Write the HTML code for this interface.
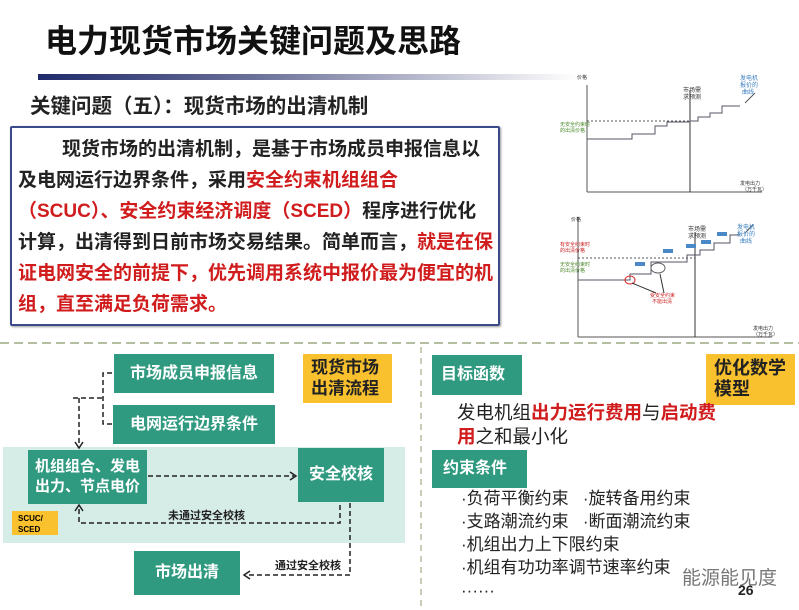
<!DOCTYPE html>
<html><head><meta charset="utf-8"><style>
body{margin:0;width:799px;height:610px;background:#fff;position:relative;overflow:hidden;font-family:"Liberation Sans","Noto Sans CJK SC",sans-serif}
.a{position:absolute}
.t{background:#2f9a80;color:#fff;font-weight:bold;font-size:16px;display:flex;align-items:center;justify-content:center;text-align:center;line-height:20px}
.y{background:#f9c12e;color:#222;font-weight:bold;font-size:18px;line-height:21px}
.r{color:#d01c1c}
</style></head><body>
<div class="a" style="left:45px;top:16px;font-size:32px;font-weight:bold;color:#111;white-space:nowrap">电力现货市场关键问题及思路</div>
<div class="a" style="left:38px;top:74px;width:540px;height:6px;background:linear-gradient(90deg,#1f2a6b,#6a7098 40%,#e8e8ee 90%,#fff)"></div>
<div class="a" style="left:30px;top:89px;font-size:20.5px;font-weight:bold;color:#222;white-space:nowrap">关键问题（五）：现货市场的出清机制</div>
<div class="a" style="left:10px;top:126px;width:486px;height:196px;border:2px solid #3a4a8a;border-radius:2px;box-shadow:1px 1px 2px #999"></div>
<div class="a" style="left:18px;top:134px;width:476px;font-size:19px;font-weight:bold;color:#222;line-height:31px;white-space:nowrap">
<div style="padding-left:44px">现货市场的出清机制，是基于市场成员申报信息以</div>
<div>及电网运行边界条件，采用<span class="r">安全约束机组组合</span></div>
<div><span class="r">（SCUC）、安全约束经济调度（SCED）</span>程序进行优化</div>
<div>计算，出清得到日前市场交易结果。简单而言，<span class="r">就是在保</span></div>
<div class="r">证电网安全的前提下，优先调用系统中报价最为便宜的机</div>
<div class="r">组，直至满足负荷需求。</div>
</div>
<svg class="a" style="left:0;top:0" width="799" height="610">
<g stroke="#555" stroke-width="1" fill="none">
<line x1="587" y1="85" x2="587" y2="192"/><line x1="587" y1="192" x2="762" y2="192"/>
<line x1="690" y1="90" x2="690" y2="192" stroke="#333"/>
<line x1="587" y1="121" x2="690" y2="121" stroke-dasharray="2,2"/>
<polyline points="587,139 632,139 632,134 655,134 655,126 667,126 667,122 690,122 690,121 698,121 698,117 710,117 710,113 722,113 722,106 740,106" stroke="#556"/>
<line x1="745" y1="103" x2="755" y2="93"/>
<line x1="578" y1="217" x2="578" y2="337"/><line x1="578" y1="337" x2="772" y2="337"/>
<line x1="695" y1="232" x2="695" y2="337" stroke="#333"/>
<line x1="578" y1="258" x2="695" y2="258" stroke-dasharray="2,2"/>
<polyline points="578,280 630,280 630,274 651,274 651,262 687,262 687,255 700,255 700,250 714,250 714,243 730,243 730,235 740,235" stroke="#556"/>
<line x1="745" y1="233" x2="753" y2="225"/>
<ellipse cx="630" cy="280" rx="5" ry="4" stroke="#d22"/>
<ellipse cx="658" cy="268" rx="7" ry="5" stroke="#666"/>
<line x1="656" y1="293" x2="632" y2="283" stroke="#333"/>
<line x1="664" y1="293" x2="660" y2="274" stroke="#333"/>
</g>
<g fill="#4a88c8"><rect x="635" y="262" width="10" height="4"/><rect x="663" y="249" width="10" height="4"/><rect x="686" y="244" width="10" height="4"/><rect x="701" y="240" width="10" height="4"/><rect x="717" y="232" width="10" height="4"/></g>
<g font-size="5" fill="#333" font-family="Liberation Sans,Noto Sans CJK SC,sans-serif">
<text x="577" y="79">价格</text><text x="740" y="80" fill="#3a7fc2" font-size="6">发电机</text><text x="740" y="87" fill="#3a7fc2" font-size="6">报价的</text><text x="742" y="94" fill="#3a7fc2" font-size="6">曲线</text>
<text x="683" y="92" font-size="6">市场需</text><text x="683" y="99" font-size="6">求预测</text>
<text x="560" y="126" fill="#4a8a2a">无安全约束时</text><text x="560" y="132" fill="#4a8a2a">的出清价格</text>
<text x="740" y="185">发电出力</text><text x="742" y="191">（万千瓦）</text>
<text x="571" y="221">价格</text><text x="688" y="231" font-size="6">市场需</text><text x="688" y="238" font-size="6">求预测</text>
<text x="737" y="229" fill="#3a7fc2" font-size="6">发电机</text><text x="737" y="236" fill="#3a7fc2" font-size="6">报价的</text><text x="740" y="243" fill="#3a7fc2" font-size="6">曲线</text>
<text x="560" y="246" fill="#c22">有安全约束时</text><text x="560" y="252" fill="#c22">的出清价格</text>
<text x="560" y="266" fill="#4a8a2a">无安全约束时</text><text x="560" y="272" fill="#4a8a2a">的出清价格</text>
<text x="650" y="297" fill="#c22">受安全约束</text><text x="652" y="303" fill="#c22">不能出清</text>
<text x="753" y="330">发电出力</text><text x="753" y="336">（万千瓦）</text>
</g>
<line x1="0" y1="343" x2="799" y2="343" stroke="#b4bea0" stroke-width="2" stroke-dasharray="9,5"/>
<line x1="421" y1="347" x2="421" y2="610" stroke="#b4bea0" stroke-width="1.5" stroke-dasharray="6,5"/>
<rect x="3" y="447" width="402" height="96" fill="#d6ece7"/>
<g stroke="#222" stroke-width="1.5" fill="none" stroke-dasharray="5,3">
<polyline points="112,373 103,373 103,424 112,424"/>
<line x1="73" y1="398" x2="103" y2="398"/>
<line x1="79" y1="398" x2="79" y2="446"/>
<line x1="148" y1="476" x2="294" y2="476"/>
<polyline points="340,505 340,523 79,523 79,508"/>
<polyline points="350,503 350,575 246,575"/>
</g>
<g stroke="#222" stroke-width="1.5" fill="none">
<polyline points="75,442 79,448 83,442"/><polyline points="290,472 296,476 290,480"/>
<polyline points="75,511 79,505 83,511"/><polyline points="250,571 244,575 250,579"/>
</g>
<text x="168" y="519" font-size="11" font-weight="bold" fill="#222" font-family="Liberation Sans,Noto Sans CJK SC,sans-serif">未通过安全校核</text>
<text x="275" y="569" font-size="11" font-weight="bold" fill="#222" font-family="Liberation Sans,Noto Sans CJK SC,sans-serif">通过安全校核</text>
</svg>
<div class="a t" style="left:114px;top:354px;width:160px;height:39px">市场成员申报信息</div>
<div class="a t" style="left:113px;top:405px;width:162px;height:39px">电网运行边界条件</div>
<div class="a t" style="left:28px;top:450px;width:119px;height:54px;font-size:15px">机组组合、发电<br>出力、节点电价</div>
<div class="a t" style="left:298px;top:448px;width:86px;height:54px">安全校核</div>
<div class="a t" style="left:134px;top:551px;width:106px;height:44px">市场出清</div>
<div class="a y" style="left:303px;top:354px;width:89px;height:49px;padding:3px 0 0 8px;box-sizing:border-box;font-size:17px">现货市场<br>出清流程</div>
<div class="a" style="left:12px;top:511px;width:46px;height:24px;background:#f9c12e;font-size:8px;font-weight:bold;line-height:11px;padding:2px 0 0 6px;box-sizing:border-box">SCUC/<br>SCED</div>
<div class="a t" style="left:432px;top:355px;width:90px;height:40px;justify-content:flex-start;padding-left:9px;box-sizing:border-box">目标函数</div>
<div class="a y" style="left:706px;top:354px;width:89px;height:51px;padding:4px 0 0 8px;box-sizing:border-box">优化数学<br>模型</div>
<div class="a" style="left:457px;top:401px;font-size:18.5px;line-height:24px;color:#222;white-space:nowrap">发电机组<b class="r">出力运行费用</b>与<b class="r">启动费</b><br><b class="r">用</b>之和最小化</div>
<div class="a t" style="left:432px;top:450px;width:95px;height:38px;justify-content:flex-start;padding-left:11px;box-sizing:border-box">约束条件</div>
<div class="a" style="left:461px;top:487px;font-size:17px;line-height:23px;color:#222;white-space:pre">·负荷平衡约束   ·旋转备用约束
·支路潮流约束   ·断面潮流约束
·机组出力上下限约束
·机组有功功率调节速率约束
······</div>
<div class="a" style="left:682px;top:563px;font-size:19px;color:#777">能源能见度</div>
<div class="a" style="left:738px;top:582px;font-size:14px;font-weight:bold;color:#222">26</div>
</body></html>
